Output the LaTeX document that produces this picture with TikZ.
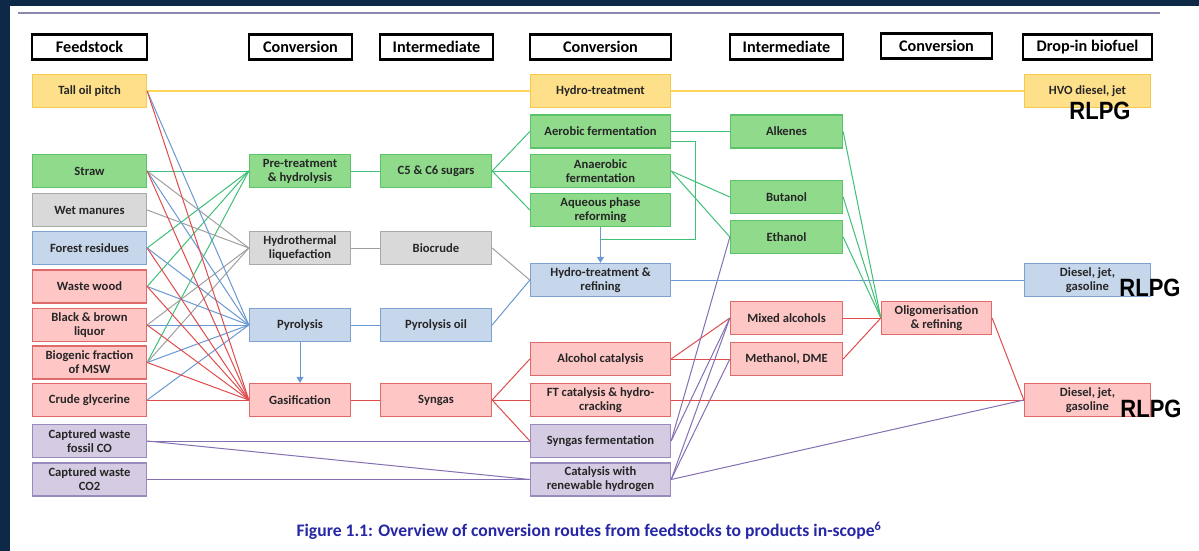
\documentclass[tikz,border=0pt]{standalone}
\usepackage{fontspec}
\setmainfont{Carlito}
\newfontfamily\rlpgfont{Liberation Sans}
\usetikzlibrary{arrows.meta}
\definecolor{bgdark}{HTML}{0E2947}
\definecolor{topline}{HTML}{8A8AB0}
\definecolor{yfill}{HTML}{FFE08A}
\definecolor{ydraw}{HTML}{F6C94A}
\definecolor{yline}{HTML}{FFD55A}
\definecolor{gfill}{HTML}{8FDA8B}
\definecolor{gdraw}{HTML}{5BC46A}
\definecolor{gline}{HTML}{3FBF78}
\definecolor{afill}{HTML}{D9D9D9}
\definecolor{adraw}{HTML}{A9A9A9}
\definecolor{aline}{HTML}{A0A0A0}
\definecolor{bfill}{HTML}{C6D6EB}
\definecolor{bdraw}{HTML}{7BA2D1}
\definecolor{bline}{HTML}{6A98D2}
\definecolor{pfill}{HTML}{FFC6C6}
\definecolor{pdraw}{HTML}{E06A6A}
\definecolor{pline}{HTML}{E04C4C}
\definecolor{ufill}{HTML}{D5CCE3}
\definecolor{udraw}{HTML}{9A8BBE}
\definecolor{uline}{HTML}{8470B2}
\definecolor{capblue}{HTML}{2626A6}
\begin{document}
\begin{tikzpicture}[x=1pt,y=-1pt,
  box/.style={draw, line width=1.3pt, minimum height=33pt, inner sep=1pt, align=center,
    font=\bfseries\fontsize{12.6}{14}\selectfont, text=black!85},
  hdr/.style={draw=black, line width=2.5pt, fill=white, minimum height=25pt, inner sep=1pt,
    font=\bfseries\fontsize{16.2}{18}\selectfont},
  cA/.style={box, minimum width=114pt},
  cB/.style={box, minimum width=101pt},
  cC/.style={box, minimum width=111pt},
  cD/.style={box, minimum width=140pt},
  cE/.style={box, minimum width=112pt},
  cF/.style={box, minimum width=110pt},
  cG/.style={box, minimum width=126pt},
  yel/.style={fill=yfill, draw=ydraw},
  grn/.style={fill=gfill, draw=gdraw},
  gry/.style={fill=afill, draw=adraw},
  blu/.style={fill=bfill, draw=bdraw},
  pnk/.style={fill=pfill, draw=pdraw},
  pur/.style={fill=ufill, draw=udraw},
  ly/.style={draw=yline, line width=1.2pt},
  lg/.style={draw=gline, line width=1pt},
  la/.style={draw=aline, line width=1pt},
  lb/.style={draw=bline, line width=1pt},
  lp/.style={draw=pline, line width=1pt},
  lu/.style={draw=uline, line width=1pt},
  arr/.style={-{Triangle[length=6pt,width=7pt]}},
  rl/.style={font=\rlpgfont\bfseries\fontsize{25}{25}\selectfont, inner sep=0pt, xscale=0.88}
]
\useasboundingbox (0,0) rectangle (1199,551);
\fill[bgdark] (0,0) rectangle (1199,551);
\fill[white] (10,6) rectangle (1199,551);
\draw[topline, line width=1.2pt] (18,13) -- (1160,13);

% headers
\node[hdr, minimum width=115pt] (h1) at (89.5,47) {Feedstock};
\node[hdr, minimum width=103pt] (h2) at (300.5,47) {Conversion};
\node[hdr, minimum width=113pt] (h3) at (436.5,47) {Intermediate};
\node[hdr, minimum width=141pt] (h4) at (600.5,47) {Conversion};
\node[hdr, minimum width=113pt] (h5) at (786.5,47) {Intermediate};
\node[hdr, minimum width=111pt] (h6) at (936.5,46) {Conversion};
\node[hdr, minimum width=129pt] (h7) at (1087.5,47) {Drop-in biofuel};

% feedstocks
\node[cA,yel] (tall) at (89.5,91) {Tall oil pitch};
\node[cA,grn] (straw) at (89.5,171) {Straw};
\node[cA,gry] (wet) at (89.5,210) {Wet manures};
\node[cA,blu] (forest) at (89.5,248) {Forest residues};
\node[cA,pnk] (wood) at (89.5,286.5) {Waste wood};
\node[cA,pnk] (liquor) at (89.5,325) {Black \& brown\\liquor};
\node[cA,pnk] (msw) at (89.5,362.5) {Biogenic fraction\\of MSW};
\node[cA,pnk] (glyc) at (89.5,400) {Crude glycerine};
\node[cA,pur] (fco) at (89.5,441) {Captured waste\\fossil CO};
\node[cA,pur] (co2) at (89.5,479.5) {Captured waste\\CO2};

% conversion 1
\node[cB,grn] (pre) at (300,171) {Pre-treatment\\\& hydrolysis};
\node[cB,gry] (htl) at (300,248) {Hydrothermal\\liquefaction};
\node[cB,blu] (pyr) at (300,325) {Pyrolysis};
\node[cB,pnk] (gas) at (300,400) {Gasification};

% intermediate 1
\node[cC,grn] (sug) at (436,171) {C5 \& C6 sugars};
\node[cC,gry] (bioc) at (436,248) {Biocrude};
\node[cC,blu] (pyoil) at (436,325) {Pyrolysis oil};
\node[cC,pnk] (syn) at (436,400) {Syngas};

% conversion 2
\node[cD,yel] (hyd) at (600.5,91) {Hydro-treatment};
\node[cD,grn] (aer) at (600.5,131.5) {Aerobic fermentation};
\node[cD,grn] (ana) at (600.5,171) {Anaerobic\\fermentation};
\node[cD,grn] (aqu) at (600.5,210) {Aqueous phase\\reforming};
\node[cD,blu] (htr) at (600.5,280) {Hydro-treatment \&\\refining};
\node[cD,pnk] (alc) at (600.5,359) {Alcohol catalysis};
\node[cD,pnk] (ft) at (600.5,400) {FT catalysis \& hydro-\\cracking};
\node[cD,pur] (sfer) at (600.5,441) {Syngas fermentation};
\node[cD,pur] (cat) at (600.5,479.5) {Catalysis with\\renewable hydrogen};

% intermediate 2
\node[cE,grn] (alk) at (786.5,131.5) {Alkenes};
\node[cE,grn] (but) at (786.5,197) {Butanol};
\node[cE,grn] (eth) at (786.5,237) {Ethanol};
\node[cE,pnk] (mix) at (786.5,318) {Mixed alcohols};
\node[cE,pnk] (meth) at (786.5,359) {Methanol, DME};

% conversion 3
\node[cF,pnk] (olig) at (936.5,318) {Oligomerisation\\\& refining};

% drop-in
\node[cG,yel] (hvo) at (1087.5,91) {HVO diesel, jet};
\node[cG,blu] (dbl) at (1087.5,280) {Diesel, jet,\\gasoline};
\node[cG,pnk] (dpk) at (1087.5,400) {Diesel, jet,\\gasoline};

% ---------- connectors ----------
% yellow
\draw[ly] (tall.east) -- (hyd.west);
\draw[ly] (hyd.east) -- (hvo.west);
% feedstock -> pre-treatment (green)
\draw[lg] (straw.east) -- (pre.west);
\draw[lg] (forest.east) -- (pre.west);
\draw[lg] (wood.east) -- (pre.west);
\draw[lg] (msw.east) -- (pre.west);
% feedstock -> hydrothermal (grey)
\draw[la] (straw.east) -- (htl.west);
\draw[la] (wet.east) -- (htl.west);
\draw[la] (liquor.east) -- (htl.west);
\draw[la] (msw.east) -- (htl.west);
% feedstock -> pyrolysis (blue)
\draw[lb] (tall.east) -- (pyr.west);
\draw[lb] (straw.east) -- (pyr.west);
\draw[lb] (forest.east) -- (pyr.west);
\draw[lb] (wood.east) -- (pyr.west);
\draw[lb] (liquor.east) -- (pyr.west);
\draw[lb] (msw.east) -- (pyr.west);
\draw[lb] (glyc.east) -- (pyr.west);
% feedstock -> gasification (red)
\draw[lp] (tall.east) -- (gas.west);
\draw[lp] (straw.east) -- (gas.west);
\draw[lp] (forest.east) -- (gas.west);
\draw[lp] (wood.east) -- (gas.west);
\draw[lp] (liquor.east) -- (gas.west);
\draw[lp] (msw.east) -- (gas.west);
\draw[lp] (glyc.east) -- (gas.west);
% captured gases (purple)
\draw[lu] (fco.east) -- (sfer.west);
\draw[lu] (fco.east) -- (cat.west);
\draw[lu] (co2.east) -- (cat.west);
% conversion 1 -> intermediate 1
\draw[lg] (pre.east) -- (sug.west);
\draw[la] (htl.east) -- (bioc.west);
\draw[lb] (pyr.east) -- (pyoil.west);
\draw[lp] (gas.east) -- (syn.west);
\draw[lb, arr] (pyr.south) -- (gas.north);
% intermediate 1 -> conversion 2
\draw[lg] (sug.east) -- (aer.west);
\draw[lg] (sug.east) -- (ana.west);
\draw[lg] (sug.east) -- (aqu.west);
\draw[la] (bioc.east) -- (htr.west);
\draw[lb] (pyoil.east) -- (htr.west);
\draw[lp] (syn.east) -- (alc.west);
\draw[lp] (syn.east) -- (ft.west);
\draw[lp] (syn.east) -- (sfer.west);
% aqueous phase -> hydro-treatment & refining, with aerobic elbow
\coordinate (j) at (600.5,239);
\draw[lg] ([yshift=-9.5pt]aer.east) -| (695,239) -- (j);
\draw[lb, arr] (aqu.south) -- (htr.north);
% conversion 2 -> intermediate 2
\draw[lg] (aer.east) -- (alk.west);
\draw[lg] (ana.east) -- (but.west);
\draw[lg] (ana.east) -- (eth.west);
\draw[lp] (alc.east) -- (mix.west);
\draw[lp] (alc.east) -- (meth.west);
\draw[lu] (sfer.east) -- (eth.west);
\draw[lu] (sfer.east) -- (mix.west);
\draw[lu] (cat.east) -- (mix.west);
\draw[lu] (cat.east) -- (meth.west);
% to drop-in
\draw[lb] (htr.east) -- (dbl.west);
\draw[lp] (ft.east) -- (dpk.west);
\draw[lu] (cat.east) -- (dpk.west);
% intermediate 2 -> oligomerisation
\draw[lg] (alk.east) -- (olig.west);
\draw[lg] (but.east) -- (olig.west);
\draw[lg] (eth.east) -- (olig.west);
\draw[lp] (mix.east) -- (olig.west);
\draw[lp] (meth.east) -- (olig.west);
\draw[lp] (olig.east) -- (dpk.west);

% RLPG labels
\node[rl] (r1) at (1100,111) {RLPG};
\node[rl] (r2) at (1150,288) {RLPG};
\node[rl] (r3) at (1151,409) {RLPG};

% caption
\node[font=\bfseries\fontsize{17.6}{19}\selectfont, text=capblue, inner sep=0pt] (cap) at (589,531)
  {Figure 1.1: Overview of conversion routes from feedstocks to products in-scope\textsuperscript{6}};
\end{tikzpicture}
\end{document}
